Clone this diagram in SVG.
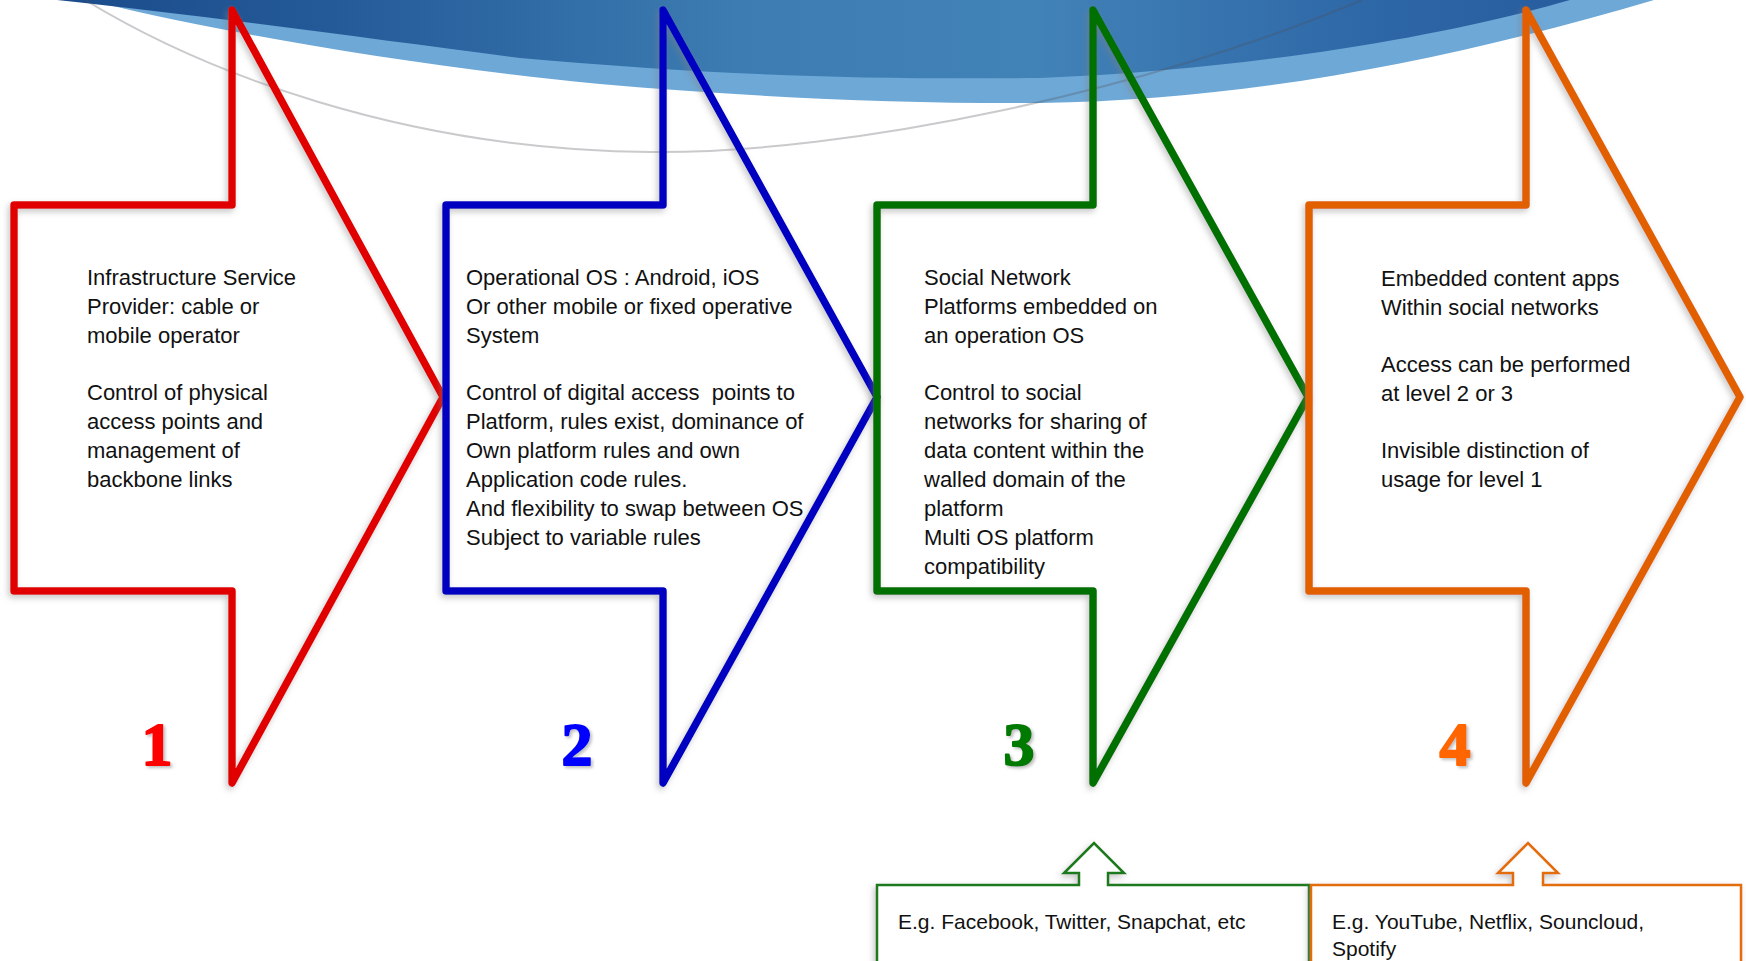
<svg xmlns="http://www.w3.org/2000/svg" width="1746" height="961" viewBox="0 0 1746 961">
  <defs>
    <linearGradient id="swoosh-dark" x1="57" y1="0" x2="1570" y2="0" gradientUnits="userSpaceOnUse">
      <stop offset="0" stop-color="#1b4b8a"/>
      <stop offset="0.18" stop-color="#245a98"/>
      <stop offset="0.45" stop-color="#3c7cb2"/>
      <stop offset="0.65" stop-color="#4182b7"/>
      <stop offset="0.88" stop-color="#2d66a6"/>
      <stop offset="1" stop-color="#275d9e"/>
    </linearGradient>
    <filter id="shade" x="-10%" y="-10%" width="120%" height="120%">
      <feDropShadow dx="-2" dy="3" stdDeviation="3" flood-color="#808080" flood-opacity="0.45"/>
    </filter>
    <filter id="digit-shade" x="-30%" y="-30%" width="160%" height="160%">
      <feDropShadow dx="2" dy="2" stdDeviation="1.5" flood-color="#808080" flood-opacity="0.5"/>
    </filter>
  </defs>
  <style>
    .stage { fill: none; stroke-width: 7.5; stroke-linejoin: round; filter: url(#shade); }
    .body { font-family: "Liberation Sans", Arial, sans-serif; font-size: 22px; fill: #111; }
    .note { font-family: "Liberation Sans", Arial, sans-serif; font-size: 21px; fill: #111; }
    .digit { font-family: "Liberation Serif", "Times New Roman", serif; font-weight: bold; font-size: 62px; text-anchor: middle; stroke-width: 2; stroke-linejoin: round; filter: url(#digit-shade); }
    .callout { fill: #fff; stroke-width: 2.5; filter: url(#shade); }
  </style>

  <rect width="1746" height="961" fill="#fff"/>

  <!-- blue swoosh along the top edge -->
  <g id="background">
    <path d="M 88,-2 L 88,0 C 200,28 400,65 600,84 C 750,97 900,104 1040,103 C 1250,100 1450,60 1654,0 L 1654,-2 Z" fill="#6ea8d6"/>
    <path d="M 57,-2 L 57,0 C 200,15 380,40 520,58 C 700,74 850,80 1040,78 C 1250,70 1450,35 1570,0 L 1570,-2 Z" fill="url(#swoosh-dark)"/>
    <path d="M 85,0 C 200,70 400,150 650,152 C 850,154 1150,90 1362,0" fill="none" stroke="#50505a" stroke-opacity="0.3" stroke-width="2"/>
  </g>

  <!-- level 1 -->
  <g id="stage-1">
    <path class="stage" stroke="#e00000" d="M 14,205 L 232,205 L 232,10 L 443,397 L 232,783 L 232,591 L 14,591 Z"/>
    <text class="body">
      <tspan x="87" y="285">Infrastructure Service</tspan>
      <tspan x="87" y="314">Provider: cable or</tspan>
      <tspan x="87" y="343">mobile operator</tspan>
      <tspan x="87" y="400">Control of physical</tspan>
      <tspan x="87" y="429">access points and</tspan>
      <tspan x="87" y="458">management of</tspan>
      <tspan x="87" y="487">backbone links</tspan>
    </text>
    <text class="digit" x="157" y="765" fill="#ff0000" stroke="#ff0000">1</text>
  </g>

  <!-- level 2 -->
  <g id="stage-2">
    <path class="stage" stroke="#0000c0" d="M 446,205 L 663,205 L 663,10 L 877,397 L 663,783 L 663,591 L 446,591 Z"/>
    <text class="body" xml:space="preserve"><tspan x="466" y="285">Operational OS : Android, iOS</tspan><tspan x="466" y="314">Or other mobile or fixed operative</tspan><tspan x="466" y="343">System</tspan><tspan x="466" y="400">Control of digital access  points to</tspan><tspan x="466" y="429">Platform, rules exist, dominance of</tspan><tspan x="466" y="458">Own platform rules and own</tspan><tspan x="466" y="487">Application code rules.</tspan><tspan x="466" y="516">And flexibility to swap between OS</tspan><tspan x="466" y="545">Subject to variable rules</tspan></text>
    <text class="digit" x="577" y="765" fill="#0000ff" stroke="#0000ff">2</text>
  </g>

  <!-- level 3 -->
  <g id="stage-3">
    <path class="stage" stroke="#006f00" d="M 877,205 L 1093,205 L 1093,10 L 1308,397 L 1093,783 L 1093,591 L 877,591 Z"/>
    <text class="body">
      <tspan x="924" y="285">Social Network</tspan>
      <tspan x="924" y="314">Platforms embedded on</tspan>
      <tspan x="924" y="343">an operation OS</tspan>
      <tspan x="924" y="400">Control to social</tspan>
      <tspan x="924" y="429">networks for sharing of</tspan>
      <tspan x="924" y="458">data content within the</tspan>
      <tspan x="924" y="487">walled domain of the</tspan>
      <tspan x="924" y="516">platform</tspan>
      <tspan x="924" y="545">Multi OS platform</tspan>
      <tspan x="924" y="574">compatibility</tspan>
    </text>
    <text class="digit" x="1019" y="765" fill="#007a00" stroke="#007a00">3</text>
  </g>

  <!-- level 4 -->
  <g id="stage-4">
    <path class="stage" stroke="#e25f00" d="M 1309,205 L 1526,205 L 1526,10 L 1740,397 L 1526,783 L 1526,591 L 1309,591 Z"/>
    <text class="body">
      <tspan x="1381" y="286">Embedded content apps</tspan>
      <tspan x="1381" y="315">Within social networks</tspan>
      <tspan x="1381" y="372">Access can be performed</tspan>
      <tspan x="1381" y="401">at level 2 or 3</tspan>
      <tspan x="1381" y="458">Invisible distinction of</tspan>
      <tspan x="1381" y="487">usage for level 1</tspan>
    </text>
    <text class="digit" x="1455" y="765" fill="#ff6600" stroke="#ff6600">4</text>
  </g>

  <!-- example callouts pointing up at levels 3 and 4 -->
  <g id="examples-3">
    <path class="callout" stroke="#1e7a1e" d="M 877,885 L 1079,885 L 1079,873 L 1064,873 L 1094,843 L 1124,873 L 1108,873 L 1108,885 L 1309,885 L 1309,975 L 877,975 Z"/>
    <text class="note" x="898" y="929">E.g. Facebook, Twitter, Snapchat, etc</text>
  </g>
  <g id="examples-4">
    <path class="callout" stroke="#e36c0a" d="M 1311,885 L 1513,885 L 1513,873 L 1498,873 L 1528,843 L 1558,873 L 1543,873 L 1543,885 L 1741,885 L 1741,975 L 1311,975 Z"/>
    <text class="note">
      <tspan x="1332" y="929">E.g. YouTube, Netflix, Souncloud,</tspan>
      <tspan x="1332" y="956">Spotify</tspan>
    </text>
  </g>
</svg>
